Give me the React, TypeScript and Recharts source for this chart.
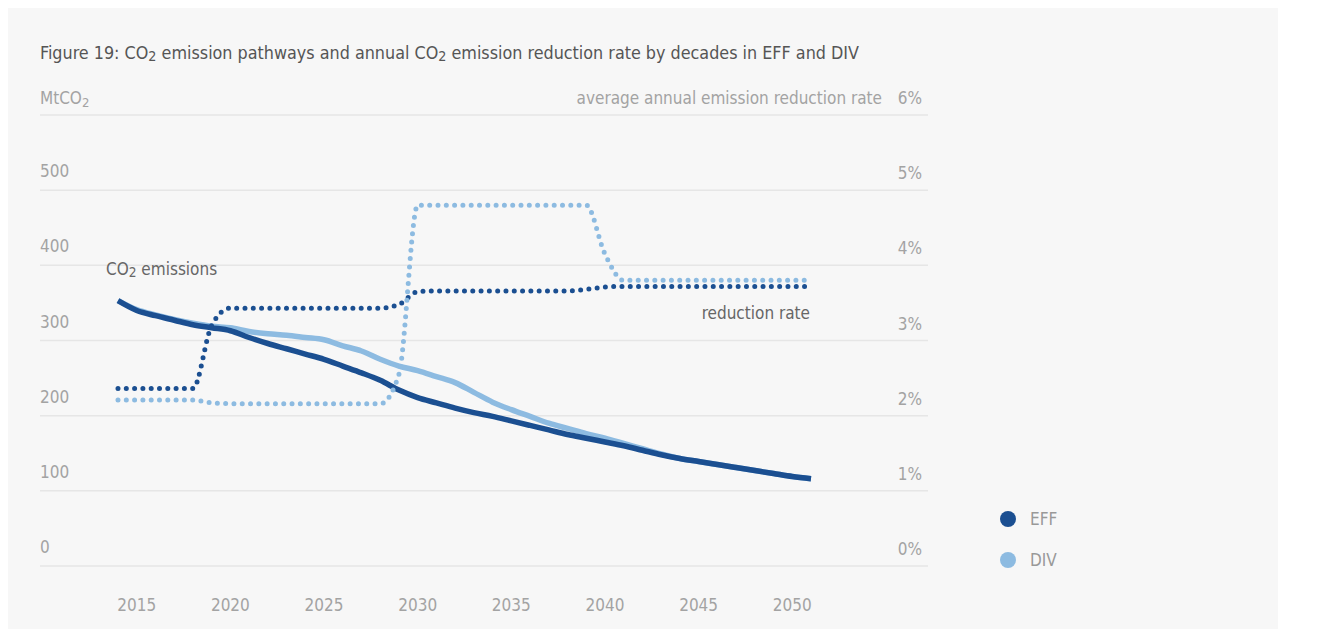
import { LineChart, Line, XAxis, YAxis, CartesianGrid } from 'recharts';

const years = [
  2014, 2015, 2016, 2017, 2018, 2019, 2020, 2021, 2022, 2023, 2024, 2025, 2026, 2027, 2028, 2029, 2030, 2031, 2032,
  2033, 2034, 2035, 2036, 2037, 2038, 2039, 2040, 2041, 2042, 2043, 2044, 2045, 2046, 2047, 2048, 2049, 2050, 2051,
];

// MtCO2
const effEmissions = [
  353, 340, 333, 327, 321, 317, 313, 304, 296, 289, 282, 275, 266, 257, 247, 234, 224, 217, 210,
  204, 199, 193, 187, 181, 175, 170, 165, 160, 154, 148, 143, 139, 135, 131, 127, 123, 119, 116,
];
const divEmissions = [
  353, 341, 334, 328, 323, 319, 317, 312, 309, 307, 304, 301, 293, 286, 275, 266, 260, 252, 244,
  231, 218, 208, 199, 190, 183, 176, 170, 163, 156, 149, 143, 139, 135, 131, 127, 123, 119, 116,
];

// average annual reduction rate, %
const effRate = [
  2.36, 2.36, 2.36, 2.36, 2.36, 3.2, 3.43, 3.43, 3.43, 3.43, 3.43, 3.43, 3.43, 3.43, 3.43, 3.48, 3.65, 3.66, 3.66,
  3.66, 3.66, 3.66, 3.66, 3.66, 3.66, 3.68, 3.71, 3.72, 3.72, 3.72, 3.72, 3.72, 3.72, 3.72, 3.72, 3.72, 3.72, 3.72,
];
const divRate = [
  2.21, 2.21, 2.21, 2.21, 2.21, 2.17, 2.16, 2.16, 2.16, 2.16, 2.16, 2.16, 2.16, 2.16, 2.16, 2.55, 4.8, 4.8, 4.8,
  4.8, 4.8, 4.8, 4.8, 4.8, 4.8, 4.8, 4.15, 3.8, 3.8, 3.8, 3.8, 3.8, 3.8, 3.8, 3.8, 3.8, 3.8, 3.8,
];

const yearTicks = [2015, 2020, 2025, 2030, 2035, 2040, 2045, 2050];
const emissionTicks = [0, 100, 200, 300, 400, 500, 600];
const rateTicks = [0, 1, 2, 3, 4, 5, 6];

const data = years.map((year, i) => ({
  year,
  effEmissions: effEmissions[i],
  divEmissions: divEmissions[i],
  effRate: effRate[i],
  divRate: divRate[i],
}));

const EFF = '#1b4f91';
const DIV = '#8dbbe1';
const FONT = '"Liberation Sans Narrow", "DejaVu Sans Condensed", Roboto, sans-serif';
const TICK = '#a3a3a3';

function Co2({ size = 0.8 }: { size?: number }) {
  return (
    <>
      CO<span style={{ fontSize: `${size}em`, position: 'relative', top: '0.12em' }}>2</span>
    </>
  );
}

function LeftTick({ x, y, payload }: any) {
  if (payload.value === 600) {
    return (
      <text x={x} y={y - 11} fill={TICK} fontSize={17} fontFamily={FONT} textAnchor="start">
        <tspan>MtCO</tspan>
        <tspan fontSize={13} dy={3}>2</tspan>
      </text>
    );
  }
  return (
    <text x={x} y={y - 13} fill={TICK} fontSize={17} fontFamily={FONT} textAnchor="start">
      {payload.value}
    </text>
  );
}

function RightTick({ x, y, payload }: any) {
  return (
    <g>
      <text x={x - 6} y={y - 11} fill={TICK} fontSize={17} fontFamily={FONT} textAnchor="end">
        {payload.value}%
      </text>
      {payload.value === 6 && (
        <text x={x - 46} y={y - 11} fill={TICK} fontSize={17} fontFamily={FONT} textAnchor="end">
          average annual emission reduction rate
        </text>
      )}
    </g>
  );
}

function YearTick({ x, y, payload }: any) {
  return (
    <text x={x} y={y + 45} fill={TICK} fontSize={17} fontFamily={FONT} textAnchor="middle">
      {payload.value}
    </text>
  );
}

export default function App() {
  return (
    <div style={{ position: 'relative', width: 1270, height: 621, background: '#f7f7f7', fontFamily: FONT }}>
      <div style={{ position: 'absolute', left: 32, top: 34, fontSize: 17.8, color: '#555', whiteSpace: 'nowrap', lineHeight: 1.2 }}>
        Figure 19: <Co2 /> emission pathways and annual <Co2 /> emission reduction rate by decades in EFF and DIV
      </div>

      <LineChart width={1270} height={621} data={data} margin={{ top: 107, right: 0, bottom: 0, left: 0 }}>
        <CartesianGrid yAxisId="left" vertical={false} stroke="#e6e6e6" strokeWidth={1.5} />
        <XAxis
          dataKey="year"
          type="number"
          domain={[2014, 2051]}
          ticks={yearTicks}
          padding={{ left: 78, right: 117 }}
          axisLine={false}
          tickLine={false}
          tickSize={0}
          tickMargin={0}
          height={63}
          tick={<YearTick />}
        />
        <YAxis
          yAxisId="left"
          domain={[0, 600]}
          ticks={emissionTicks}
          width={32}
          axisLine={false}
          tickLine={false}
          tickSize={0}
          tickMargin={0}
          tick={<LeftTick />}
        />
        <YAxis
          yAxisId="right"
          orientation="right"
          domain={[0, 6]}
          ticks={rateTicks}
          width={350}
          axisLine={false}
          tickLine={false}
          tickSize={0}
          tickMargin={0}
          tick={<RightTick />}
        />
        <Line yAxisId="left" type="monotone" dataKey="divEmissions" stroke={DIV} strokeWidth={5.5} dot={false} isAnimationActive={false} />
        <Line yAxisId="left" type="monotone" dataKey="effEmissions" stroke={EFF} strokeWidth={5.5} dot={false} isAnimationActive={false} />
        <Line
          yAxisId="right"
          type="monotone"
          dataKey="effRate"
          stroke={EFF}
          strokeWidth={5}
          strokeDasharray="0 8.3"
          strokeLinecap="round"
          dot={false}
          isAnimationActive={false}
        />
        <Line
          yAxisId="right"
          type="monotone"
          dataKey="divRate"
          stroke={DIV}
          strokeWidth={5}
          strokeDasharray="0 8.3"
          strokeLinecap="round"
          dot={false}
          isAnimationActive={false}
        />
      </LineChart>

      <div style={{ position: 'absolute', left: 98, top: 252, fontSize: 17, color: '#666', lineHeight: 1.1, whiteSpace: 'nowrap' }}>
        <Co2 /> emissions
      </div>
      <div style={{ position: 'absolute', right: 1270 - 802, top: 296, fontSize: 17, color: '#666', lineHeight: 1.1, whiteSpace: 'nowrap' }}>
        reduction rate
      </div>

      {[
        { name: 'EFF', color: EFF, top: 511 },
        { name: 'DIV', color: DIV, top: 552 },
      ].map((item) => (
        <div key={item.name} style={{ position: 'absolute', left: 992, top: item.top - 10, height: 20, display: 'flex', alignItems: 'center' }}>
          <span style={{ width: 16, height: 16, borderRadius: 8, background: item.color, display: 'inline-block' }} />
          <span style={{ marginLeft: 14, fontSize: 17, color: '#999' }}>{item.name}</span>
        </div>
      ))}
    </div>
  );
}
